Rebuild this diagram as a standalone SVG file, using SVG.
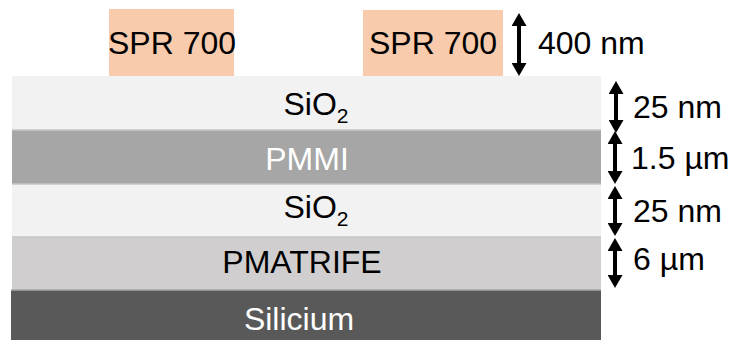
<svg xmlns="http://www.w3.org/2000/svg" width="735" height="340" viewBox="0 0 735 340">
<style>
text{font-family:"Liberation Sans",Arial,sans-serif;font-size:32px;fill:#000}
.c{text-anchor:middle}
.w{fill:#fff}
.sub{font-size:21px}
.dim{stroke:#000;stroke-width:4;fill:none;marker-start:url(#ah);marker-end:url(#ah)}
.sep{stroke:#c4c4c4;stroke-width:1.5}
</style>
<defs>
<marker id="ah" markerUnits="userSpaceOnUse" markerWidth="15" markerHeight="15" refX="2" refY="7.5" orient="auto-start-reverse" viewBox="0 0 15 15">
<path d="M0,0 L13,7.5 L0,15 Z" fill="#000"/>
</marker>
</defs>
<rect width="735" height="340" fill="#fff"/>
<g id="layer-sio2-top">
<rect x="12" y="76" width="589" height="54" fill="#f2f2f2"/>
<text x="316" y="115" class="c">SiO<tspan class="sub" dy="8">2</tspan></text>
</g>
<g id="layer-pmmi">
<rect x="12" y="130" width="589" height="54" fill="#a6a6a6"/>
<text x="307" y="170" class="c w">PMMI</text>
</g>
<g id="layer-sio2-mid">
<rect x="12" y="184" width="589" height="53" fill="#f2f2f2"/>
<text x="316" y="218" class="c">SiO<tspan class="sub" dy="8">2</tspan></text>
</g>
<g id="layer-pmatrife">
<rect x="12" y="237" width="589" height="53" fill="#d0cece"/>
<text x="302" y="273" class="c">PMATRIFE</text>
</g>
<g id="layer-silicium">
<rect x="11" y="290" width="590" height="50" fill="#595959"/>
<text x="299" y="330" class="c w">Silicium</text>
</g>
<g id="separators">
<line class="sep" x1="12" y1="130" x2="601" y2="130"/>
<line class="sep" x1="12" y1="184" x2="601" y2="184"/>
<line class="sep" x1="12" y1="237" x2="601" y2="237"/>
<line x1="11" y1="290" x2="601" y2="290" stroke="#a6a6a6" stroke-width="1.5"/>
</g>
<g id="spr-left">
<rect x="109" y="9" width="125" height="67" fill="#f8cbad"/>
<text x="172" y="54" class="c">SPR 700</text>
</g>
<g id="spr-right">
<rect x="363" y="10" width="140" height="66" fill="#f8cbad"/>
<text x="433" y="54" class="c">SPR 700</text>
</g>
<g id="dimensions">
<line class="dim" x1="519" y1="24" x2="519" y2="65"/>
<line class="dim" x1="616" y1="92" x2="616" y2="122"/>
<line class="dim" x1="615" y1="142" x2="615" y2="173"/>
<line class="dim" x1="615" y1="197" x2="615" y2="225"/>
<line class="dim" x1="615" y1="249" x2="615" y2="277"/>
</g>
<g id="dimension-labels">
<text x="538" y="54">400 nm</text>
<text x="633" y="118">25 nm</text>
<text x="631" y="169">1.5 µm</text>
<text x="633" y="222">25 nm</text>
<text x="633" y="270">6 µm</text>
</g>
</svg>
